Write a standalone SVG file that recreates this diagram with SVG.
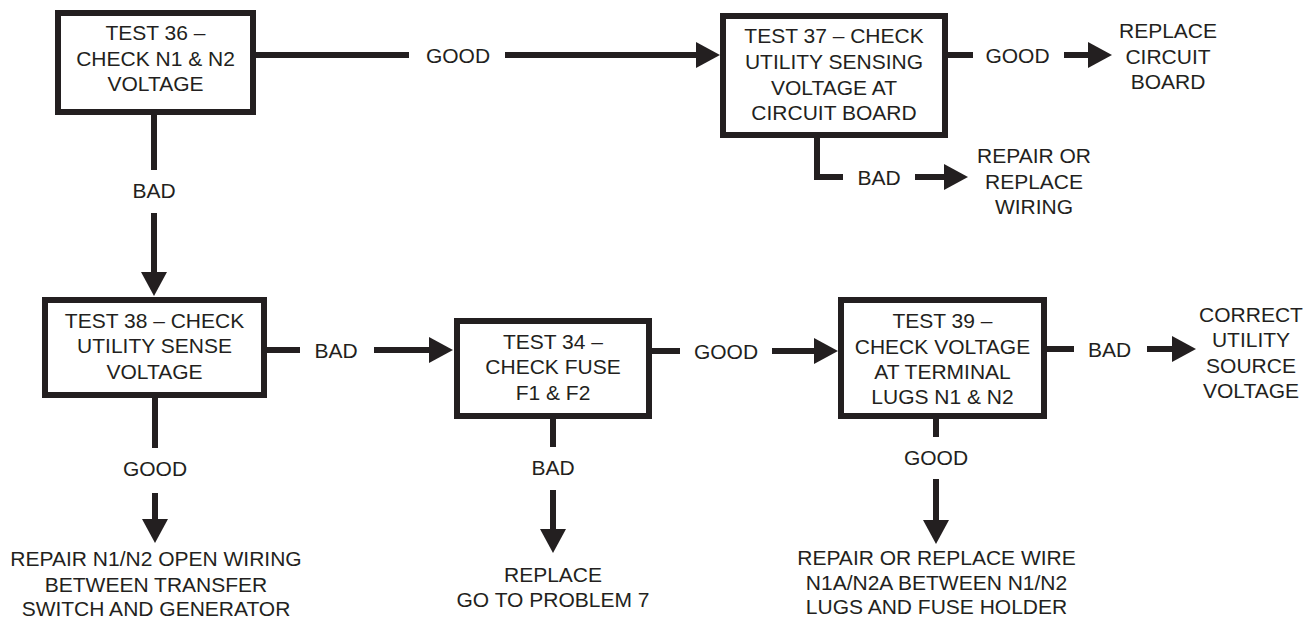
<svg xmlns="http://www.w3.org/2000/svg" width="1311" height="620" viewBox="0 0 1311 620">
<style>
  .box { fill: #ffffff; stroke: #231f20; stroke-width: 6; }
  .ln { fill: none; stroke: #231f20; stroke-width: 6; }
  .arr { fill: none; stroke: #231f20; stroke-width: 6; marker-end: url(#ah); }
  text { font-family: "Liberation Sans", Arial, sans-serif; font-size: 21px; fill: #231f20; text-anchor: middle; }
</style>
<defs>
  <marker id="ah" viewBox="0 0 24 26" markerWidth="24" markerHeight="26" markerUnits="userSpaceOnUse" refX="12" refY="13" orient="auto">
    <path d="M0,0 L24,13 L0,26 Z" fill="#231f20"/>
  </marker>
</defs>
<rect width="1311" height="620" fill="#ffffff"/>

<g id="connectors">
  <!-- 36 -> 37 GOOD -->
  <line class="ln" x1="256" y1="55" x2="409" y2="55"/>
  <text x="458" y="62.5">GOOD</text>
  <line class="arr" x1="505" y1="55" x2="708" y2="55"/>
  <!-- 36 -> 38 BAD -->
  <line class="ln" x1="154" y1="115" x2="154" y2="170"/>
  <text x="154" y="198">BAD</text>
  <line class="arr" x1="154" y1="213" x2="154" y2="284"/>
  <!-- 37 GOOD -> replace circuit board -->
  <line class="ln" x1="948" y1="55" x2="973" y2="55"/>
  <text x="1017.5" y="62.5">GOOD</text>
  <line class="arr" x1="1064" y1="55" x2="1100" y2="55"/>
  <!-- 37 BAD -> repair wiring -->
  <polyline class="ln" points="817,138 817,177 843,177"/>
  <text x="879" y="184.5">BAD</text>
  <line class="arr" x1="915" y1="177" x2="956" y2="177"/>
  <!-- 38 BAD -> 34 -->
  <line class="ln" x1="267" y1="350" x2="300" y2="350"/>
  <text x="336" y="357.5">BAD</text>
  <line class="arr" x1="374" y1="350" x2="441" y2="350"/>
  <!-- 34 GOOD -> 39 -->
  <line class="ln" x1="652" y1="351" x2="680" y2="351"/>
  <text x="726" y="358.5">GOOD</text>
  <line class="arr" x1="772" y1="351" x2="826" y2="351"/>
  <!-- 39 BAD -> correct utility -->
  <line class="ln" x1="1047" y1="349" x2="1074" y2="349"/>
  <text x="1109.5" y="356.5">BAD</text>
  <line class="arr" x1="1147" y1="349" x2="1184" y2="349"/>
  <!-- 38 GOOD -> repair N1/N2 -->
  <line class="ln" x1="155" y1="398" x2="155" y2="448"/>
  <text x="155" y="476">GOOD</text>
  <line class="arr" x1="155" y1="493" x2="155" y2="531"/>
  <!-- 34 BAD -> replace -->
  <line class="ln" x1="553" y1="419" x2="553" y2="447"/>
  <text x="553" y="475">BAD</text>
  <line class="arr" x1="553" y1="490" x2="553" y2="541"/>
  <!-- 39 GOOD -> repair wire -->
  <line class="ln" x1="936" y1="419" x2="936" y2="437"/>
  <text x="936" y="465">GOOD</text>
  <line class="arr" x1="936" y1="479" x2="936" y2="532"/>
</g>

<g id="test36">
  <rect class="box" x="58" y="13" width="195" height="99"/>
  <text x="155.5" y="40">TEST 36 –</text>
  <text x="155.5" y="65.5">CHECK N1 &amp; N2</text>
  <text x="155.5" y="91">VOLTAGE</text>
</g>

<g id="test37">
  <rect class="box" x="723" y="16" width="222" height="119"/>
  <text x="834" y="43">TEST 37 – CHECK</text>
  <text x="834" y="69">UTILITY SENSING</text>
  <text x="834" y="95">VOLTAGE AT</text>
  <text x="834" y="120">CIRCUIT BOARD</text>
</g>

<g id="replace-board">
  <text x="1168" y="38">REPLACE</text>
  <text x="1168" y="63.5">CIRCUIT</text>
  <text x="1168" y="89">BOARD</text>
</g>

<g id="repair-wiring">
  <text x="1034" y="163">REPAIR OR</text>
  <text x="1034" y="188.5">REPLACE</text>
  <text x="1034" y="214">WIRING</text>
</g>

<g id="test38">
  <rect class="box" x="45" y="300" width="219" height="95"/>
  <text x="154.5" y="328">TEST 38 – CHECK</text>
  <text x="154.5" y="353">UTILITY SENSE</text>
  <text x="154.5" y="378.5">VOLTAGE</text>
</g>

<g id="test34">
  <rect class="box" x="457" y="321" width="192" height="95"/>
  <text x="553" y="349">TEST 34 –</text>
  <text x="553" y="374">CHECK FUSE</text>
  <text x="553" y="399.5">F1 &amp; F2</text>
</g>

<g id="test39">
  <rect class="box" x="841" y="300" width="203" height="116"/>
  <text x="942.5" y="328">TEST 39 –</text>
  <text x="942.5" y="353.5">CHECK VOLTAGE</text>
  <text x="942.5" y="379">AT TERMINAL</text>
  <text x="942.5" y="404">LUGS N1 &amp; N2</text>
</g>

<g id="correct-utility">
  <text x="1251" y="322">CORRECT</text>
  <text x="1251" y="347">UTILITY</text>
  <text x="1251" y="373">SOURCE</text>
  <text x="1251" y="398">VOLTAGE</text>
</g>

<g id="repair-n1n2">
  <text x="156" y="566">REPAIR N1/N2 OPEN WIRING</text>
  <text x="156" y="591.5">BETWEEN TRANSFER</text>
  <text x="156" y="616">SWITCH AND GENERATOR</text>
</g>

<g id="replace-problem7">
  <text x="553" y="582">REPLACE</text>
  <text x="553" y="606.5">GO TO PROBLEM 7</text>
</g>

<g id="repair-wire">
  <text x="936.5" y="565">REPAIR OR REPLACE WIRE</text>
  <text x="936.5" y="590">N1A/N2A BETWEEN N1/N2</text>
  <text x="936.5" y="614">LUGS AND FUSE HOLDER</text>
</g>
</svg>
